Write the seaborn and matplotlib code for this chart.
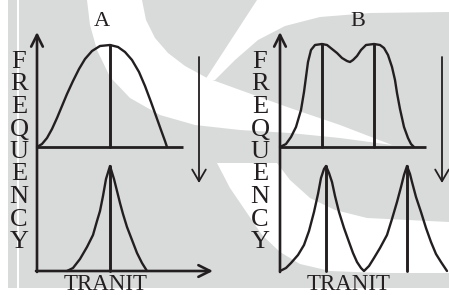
import matplotlib
matplotlib.use("Agg")
import matplotlib.pyplot as plt
from matplotlib.patches import Polygon, Rectangle
import numpy as np
import seaborn as sns

# ---- data (trait offset from y-axis, frequency height) ----
a_top_x = [0, 5, 10, 15, 20, 25, 30, 36, 42, 48, 55, 63, 73, 81, 88, 95, 102, 108, 114, 119, 124, 128, 130]
a_top_y = [0, 3, 9, 18, 29, 41, 53, 66, 78, 88, 96, 101, 102, 100, 95, 87, 75, 61, 45, 31, 17, 6, 0]
a_top_modes = [73]

a_bot_x = [30, 36, 43, 50, 56, 60, 63, 66, 69, 73, 77, 80, 83, 86, 90, 95, 100, 105, 110]
a_bot_y = [0, 3, 12, 24, 36, 50, 60, 75, 92, 105, 92, 80, 68, 57, 44, 31, 18, 8, 0]
a_bot_modes = [73]

b_top_x = [0, 6, 11, 16, 21, 24, 26, 28, 31, 35, 42, 47, 52, 57, 62, 67, 70, 73, 77, 81, 86,
           94, 100, 104, 108, 112, 115, 117, 120, 124, 128, 131, 134]
b_top_y = [0, 3, 10, 20, 37, 55, 70, 85, 97, 102, 103, 102, 98, 94, 89, 86, 85, 87, 91, 97, 102,
           103, 102, 99, 92, 80, 67, 54, 38, 20, 9, 3, 0]
b_top_modes = [42, 94]

b_bot_x = [0, 6, 11, 18, 24, 29, 34, 38, 41, 44, 46, 49, 52, 55, 59, 64, 69, 73, 77, 81, 84,
           89, 94, 100, 107, 112, 117, 121, 124, 127, 130, 132, 136, 141, 146, 151, 156, 161, 165, 167]
b_bot_y = [0, 3, 8, 16, 26, 40, 59, 77, 93, 102, 105, 98, 89, 75, 59, 43, 29, 18, 9, 3, 0,
           5, 13, 23, 36, 52, 69, 84, 96, 105, 97, 89, 74, 59, 43, 29, 17, 9, 3, 0]
b_bot_modes = [46, 127]

panel_labels = ["A", "B"]
y_label = "FREQUENCY"
x_label = "TRANIT"

INK = "#231f20"
GRAY = "#d9dada"
W, H = 449, 295

sns.set_theme(style="white")
plt.rcParams["font.family"] = ["Liberation Serif", "DejaVu Serif"]

fig = plt.figure(figsize=(W / 100, H / 100), dpi=100)
fig.patch.set_facecolor("white")

# ---- watermark background in pixel coords ----
bg = fig.add_axes([0, 0, 1, 1])
bg.set_xlim(0, W)
bg.set_ylim(H, 0)
bg.axis("off")
bg.add_patch(Rectangle((8, 0), W - 8, 288, color=GRAY, lw=0))
bg.add_patch(Rectangle((17, 0), 2, 288, color="white", lw=0))
white_shapes = [
    [(87, 0), (142, 0), (146, 20), (155, 38), (168, 53), (185, 66), (207, 78), (240, 90),
     (290, 108), (340, 125), (392, 145), (340, 138), (290, 133), (240, 130), (195, 125),
     (160, 115), (130, 98), (110, 77), (97, 50), (90, 25)],
    [(205, 80), (257, 0), (449, 0), (449, 12), (370, 13), (320, 17), (285, 26), (258, 40),
     (235, 60), (215, 80)],
    [(217, 163), (277, 163), (290, 180), (310, 198), (335, 210), (367, 218), (449, 222),
     (449, 273), (380, 273), (330, 271), (300, 264), (280, 252), (262, 235), (245, 210),
     (230, 188)],
]
for pts in white_shapes:
    bg.add_patch(Polygon(pts, closed=True, color="white", lw=0))


def panel(origin, top, bottom, label, label_x, ylab_x, base=124, x_end=146, arrow_end=176):
    ox, oy = origin
    ax = fig.add_axes([0, 0, 1, 1])
    ax.set_xlim(-ox, W - ox)
    ax.set_ylim(-(H - oy), oy)
    ax.set_facecolor("none")
    ax.axis("off")

    arrow = dict(arrowstyle="->,head_length=0.6,head_width=0.3", lw=1.9, color=INK,
                 mutation_scale=14, shrinkA=0, shrinkB=0)
    # axes
    ax.annotate("", xy=(0, 239), xytext=(0, -1), arrowprops=arrow)
    ax.annotate("", xy=(arrow_end, 0), xytext=(-1, 0), arrowprops=arrow)
    ax.plot([0, x_end], [base, base], color=INK, lw=2.0, solid_capstyle="butt")
    # down arrow (selection)
    ax.annotate("", xy=(162, 88), xytext=(162, 214),
                arrowprops=dict(arrowstyle="->,head_length=0.6,head_width=0.35", lw=1.3,
                                color=INK, mutation_scale=14, shrinkA=0, shrinkB=0))

    (tx, ty, tm), (bx, by, bm) = top, bottom
    sns.lineplot(x=tx, y=np.array(ty) + base, ax=ax, color=INK, lw=1.7,
                 sort=False, estimator=None)
    sns.lineplot(x=bx, y=by, ax=ax, color=INK, lw=1.7, sort=False, estimator=None)
    for m in tm:
        ax.plot([m, m], [base, base + ty[tx.index(m)]], color=INK, lw=2.1)
    for m in bm:
        ax.plot([m, m], [0, by[bx.index(m)]], color=INK, lw=2.1)

    ax.text(label_x, 249, label, ha="center", va="center", fontsize=16, color=INK)
    for i, ch in enumerate(y_label):
        ax.text(ylab_x, 209 - i * 22.5, ch, ha="center", va="center", fontsize=19, color=INK)
    ax.text(69, -19, x_label, ha="center", va="baseline", fontsize=16.5, color=INK)
    return ax


panel((37, 271), (a_top_x, a_top_y, a_top_modes), (a_bot_x, a_bot_y, a_bot_modes),
      panel_labels[0], 65, -18, arrow_end=176)
panel((280, 271), (b_top_x, b_top_y, b_top_modes), (b_bot_x, b_bot_y, b_bot_modes),
      panel_labels[1], 78, -20, arrow_end=172)

fig.savefig("out.png", dpi=100)
